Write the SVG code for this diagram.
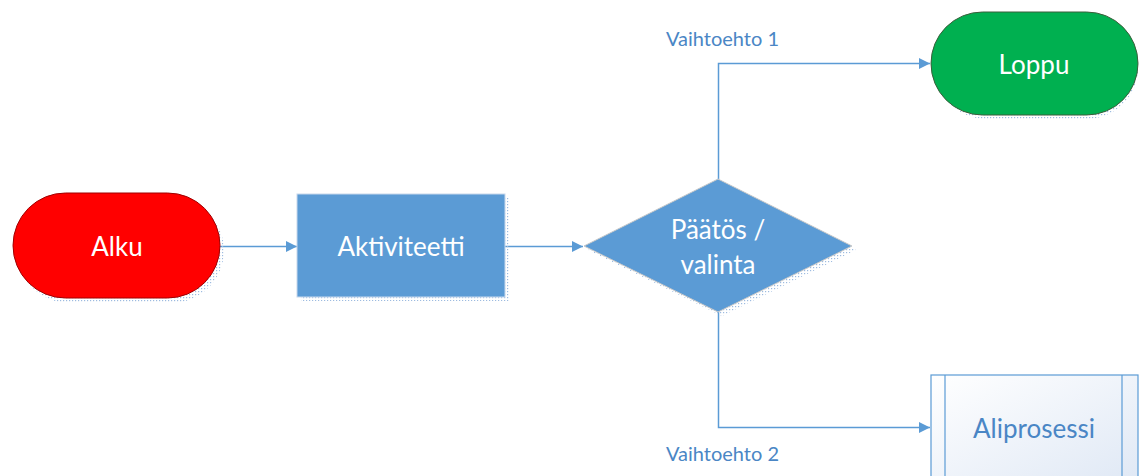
<svg xmlns="http://www.w3.org/2000/svg" width="1139" height="476" viewBox="0 0 1139 476">
<style>
.lbl{font-family:Lato,"Liberation Sans",sans-serif;font-size:26px;fill:#ffffff;text-anchor:middle}
.alt{font-family:Lato,"Liberation Sans",sans-serif;font-size:20px;fill:#4a86c5}
.conn{fill:none;stroke:#5b9bd5;stroke-width:1.5}
.shadow{fill:url(#dots)}
</style>
<defs>
<pattern id="dots" width="3" height="3" patternUnits="userSpaceOnUse">
<rect x="0" y="0" width="1.2" height="1.2" fill="#9dbbe0"/>
</pattern>
<linearGradient id="subg" x1="0" y1="0" x2="1" y2="1">
<stop offset="0" stop-color="#ffffff"/>
<stop offset="1" stop-color="#dfe8f5"/>
</linearGradient>
<marker id="arr" viewBox="0 0 10 10" refX="10" refY="5" markerWidth="12" markerHeight="11" markerUnits="userSpaceOnUse" orient="auto">
<path d="M0,0 L10,5 L0,10 z" fill="#5b9bd5"/>
</marker>
</defs>
<g id="connectors">
<path class="conn" d="M220,246.5 H297" marker-end="url(#arr)"/>
<path class="conn" d="M505,246.5 H583" marker-end="url(#arr)"/>
<path class="conn" d="M718.5,179 V63.5 H930" marker-end="url(#arr)"/>
<path class="conn" d="M718.5,312 V427.5 H930" marker-end="url(#arr)"/>
</g>
<g id="alku">
<rect class="shadow" x="17" y="198" width="207" height="105" rx="52.5"/>
<rect x="13" y="193" width="207" height="105" rx="52.5" fill="#ff0000" stroke="#a00000" stroke-width="1"/>
<text class="lbl" x="117" y="256">Alku</text>
</g>
<g id="aktiviteetti">
<rect class="shadow" x="301" y="198" width="208" height="103"/>
<rect x="297" y="194" width="208" height="103" fill="#5b9bd5" stroke="#c8d8ec" stroke-width="1"/>
<text class="lbl" x="401" y="256">Aktiviteetti</text>
</g>
<g id="paatos">
<polygon class="shadow" points="588,250 722,184 856,250 722,316"/>
<polygon points="584,246 718,179 852,246 718,312" fill="#5b9bd5" stroke="#c8c8c8" stroke-width="1"/>
<text class="lbl" x="718" y="239">Päätös /</text>
<text class="lbl" x="718" y="274">valinta</text>
</g>
<g id="loppu">
<rect class="shadow" x="935" y="16" width="203" height="103" rx="51.5"/>
<rect x="931" y="12" width="207" height="103" rx="51.5" fill="#00b050" stroke="#3b5e3b" stroke-width="1"/>
<text class="lbl" x="1034" y="74">Loppu</text>
</g>
<g id="aliprosessi">
<rect x="931" y="375" width="207" height="110" fill="url(#subg)" stroke="#5b9bd5" stroke-width="1.2"/>
<line x1="945" y1="375" x2="945" y2="476" stroke="#5b9bd5" stroke-width="1.2"/>
<line x1="1122" y1="375" x2="1122" y2="476" stroke="#5b9bd5" stroke-width="1.2"/>
<text class="lbl" x="1034" y="438" style="fill:#4a86c5">Aliprosessi</text>
</g>
<g id="labels">
<text class="alt" x="666" y="46">Vaihtoehto 1</text>
<text class="alt" x="666" y="461">Vaihtoehto 2</text>
</g>
</svg>
